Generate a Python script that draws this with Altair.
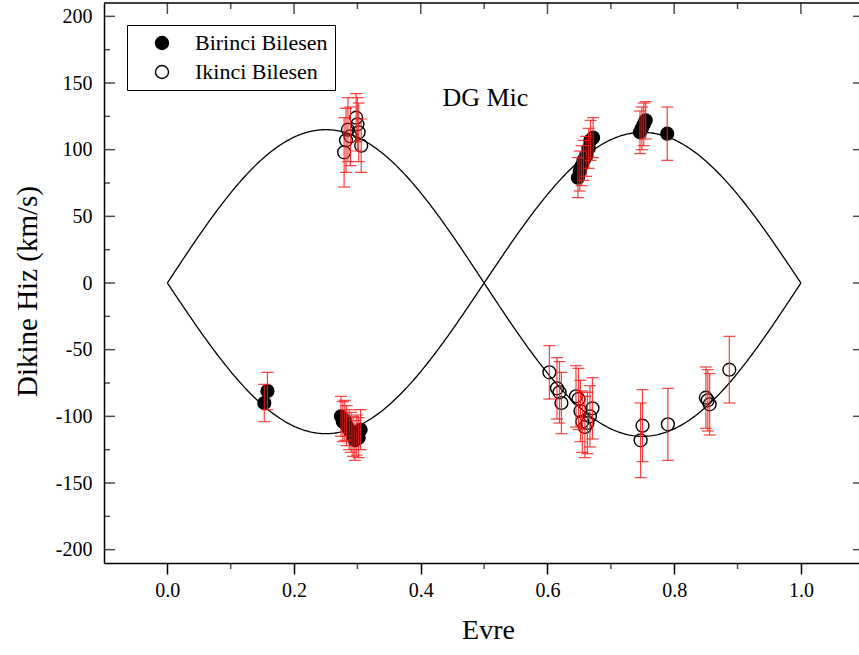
import altair as alt
import pandas as pd

# Birinci Bilesen (primary component) radial velocities
p1_phase = [0.153, 0.158, 0.274, 0.277, 0.280, 0.283, 0.287, 0.290, 0.293, 0.296,
            0.299, 0.302, 0.305, 0.648, 0.651, 0.654, 0.657, 0.661, 0.665, 0.668,
            0.672, 0.746, 0.749, 0.752, 0.755, 0.789]
p1_vel = [-90, -81, -100, -104, -103, -107, -110, -112, -115, -118,
          -114, -116, -110, 79, 84, 88, 92, 95, 101, 107,
          109, 113, 116, 119, 122, 112]
p1_err = [14, 14, 15, 15, 15, 15, 15, 15, 15, 15,
          15, 15, 15, 15, 15, 15, 15, 15, 15, 15,
          15, 16, 16, 16, 14, 20]

# Ikinci Bilesen (secondary component) radial velocities
p2_phase = [0.279, 0.282, 0.285, 0.289, 0.298, 0.300, 0.302, 0.306,
            0.603, 0.615, 0.619, 0.622, 0.645, 0.649, 0.652, 0.655,
            0.659, 0.663, 0.667, 0.671, 0.747, 0.750, 0.790,
            0.850, 0.853, 0.856, 0.887]
p2_vel = [98, 107, 115, 110, 124, 119, 113, 103,
          -67, -79, -82, -90, -85, -87, -96, -104,
          -108, -105, -100, -94, -118, -107, -106,
          -86, -88, -91, -65]
p2_err = [26, 24, 24, 22, 18, 20, 22, 20,
          20, 23, 23, 23, 23, 23, 23, 23,
          23, 23, 23, 23, 28, 27, 27,
          23, 23, 23, 25]

# orbital solution: semi-amplitudes (km/s)
K1 = 113
K2 = 115

series_names = ["Birinci Bilesen", "Ikinci Bilesen"]

x_major = [0.0, 0.2, 0.4, 0.6, 0.8, 1.0]
x_minor = [0.1, 0.3, 0.5, 0.7, 0.9]
y_major = [-200, -150, -100, -50, 0, 50, 100, 150, 200]
y_minor = [-175, -125, -75, -25, 25, 75, 125, 175]

W, H = 755, 560
FONT = "Liberation Serif"
RED = "#f41f1f"

obs = pd.DataFrame({
    "phase": p1_phase + p2_phase,
    "vel": p1_vel + p2_vel,
    "err": p1_err + p2_err,
    "series": [series_names[0]] * len(p1_phase) + [series_names[1]] * len(p2_phase),
})
obs["lo"] = obs["vel"] - obs["err"]
obs["hi"] = obs["vel"] + obs["err"]

xs = alt.Scale(domain=[-0.1, 1.0917], nice=False, zero=False)
ys = alt.Scale(domain=[-210, 210], nice=False, zero=False)

# identical axis definitions are shared by every layer so they merge cleanly
x_axis = alt.Axis(values=x_major, format=".1f", title="Evre")
y_axis = alt.Axis(values=y_major, title="Dikine Hiz (km/s)",
                  labelExpr="replace(datum.label, '\u2212', '-')")


def X(field):
    return alt.X(field, type="quantitative", scale=xs, axis=x_axis)


def Y(field):
    return alt.Y(field, type="quantitative", scale=ys, axis=y_axis)


# fitted sine curves for both components
curve_base = alt.Chart(alt.sequence(0, 1.0001, 0.0025, as_="phase")).transform_calculate(
    v1=f"-{K1} * sin(2 * PI * datum.phase)",
    v2=f"{K2} * sin(2 * PI * datum.phase)",
)
curve1 = curve_base.mark_line(color="black", strokeWidth=1.3).encode(x=X("phase"), y=Y("v1"))
curve2 = curve_base.mark_line(color="black", strokeWidth=1.3).encode(x=X("phase"), y=Y("v2"))

points = alt.Chart(obs).mark_point(filled=True, stroke="black", strokeWidth=1.4,
                                   size=165, shape="circle", opacity=1).encode(
    x=X("phase"),
    y=Y("vel"),
    fill=alt.Fill("series:N",
                  scale=alt.Scale(domain=series_names, range=["black", "transparent"]),
                  legend=alt.Legend(title=None, orient="none", legendX=23, legendY=22,
                                    direction="vertical", strokeColor="black",
                                    fillColor="white", padding=7, symbolOffset=17,
                                    symbolType="circle", symbolSize=170,
                                    symbolStrokeColor="black", symbolStrokeWidth=1.4,
                                    labelFont=FONT, labelFontSize=22,
                                    labelColor="black", labelOffset=22,
                                    rowPadding=7, labelLimit=300)),
)

err_rule = alt.Chart(obs).mark_rule(color=RED, strokeWidth=1.2, opacity=0.85).encode(
    x=X("phase"), y=Y("lo"), y2="hi:Q",
)
err_lo = alt.Chart(obs).mark_tick(color=RED, orient="horizontal", size=12,
                                  thickness=1.2, opacity=0.85).encode(x=X("phase"), y=Y("lo"))
err_hi = alt.Chart(obs).mark_tick(color=RED, orient="horizontal", size=12,
                                  thickness=1.2, opacity=0.85).encode(x=X("phase"), y=Y("hi"))


# frame: top border, inward ticks on left, top and right, minor ticks below
def ticks(values, channel, orient, pos, size):
    d = pd.DataFrame({"v": values})
    m = alt.Chart(d).mark_tick(orient=orient, size=size, thickness=1.5, color="black")
    if channel == "x":
        return m.encode(x=X("v"), y=alt.value(pos))
    return m.encode(y=Y("v"), x=alt.value(pos))


frame_top = alt.Chart(pd.DataFrame({"v": [0]})).mark_rule(color="black", strokeWidth=1.5).encode(
    x=alt.value(0), x2=alt.value(W), y=alt.value(0)
)

tick_layers = [
    ticks(y_major, "y", "horizontal", 5.5, 11),
    ticks(y_minor, "y", "horizontal", 3, 6),
    ticks(y_major, "y", "horizontal", W - 0.5, 11),
    ticks(x_major, "x", "vertical", 5.5, 11),
    ticks(x_minor, "x", "vertical", 3, 6),
    ticks(x_minor, "x", "vertical", H + 3, 6),
]

label = alt.Chart(pd.DataFrame({"t": ["DG Mic"]})).mark_text(
    font=FONT, fontSize=26, color="black", align="center", baseline="middle"
).encode(
    x=alt.datum(0.502, scale=xs),
    y=alt.datum(139, scale=ys),
    text="t:N",
)

chart = alt.layer(
    curve1, curve2, points, err_rule, err_lo, err_hi, frame_top, *tick_layers, label
).properties(
    width=W, height=H,
    background="white",
    autosize=alt.AutoSizeParams(type="none"),
    padding={"left": 104, "top": 3, "right": 0, "bottom": 92},
).configure_view(
    strokeWidth=0
).configure_axis(
    grid=False, domainColor="black", domainWidth=1.5,
    labelFont=FONT, labelFontSize=20, labelColor="black",
    titleFont=FONT, titleFontWeight="normal", titleColor="black",
).configure_axisX(
    tickSize=11, tickWidth=1.5, tickColor="black", labelPadding=6,
    titleFontSize=28, titlePadding=16, titleX=384,
).configure_axisY(
    ticks=False, tickSize=0, labelPadding=12, titleFontSize=29, titlePadding=13,
    titleY=288,
)

chart.save("out.html", embed_options={"renderer": "svg", "actions": False})
